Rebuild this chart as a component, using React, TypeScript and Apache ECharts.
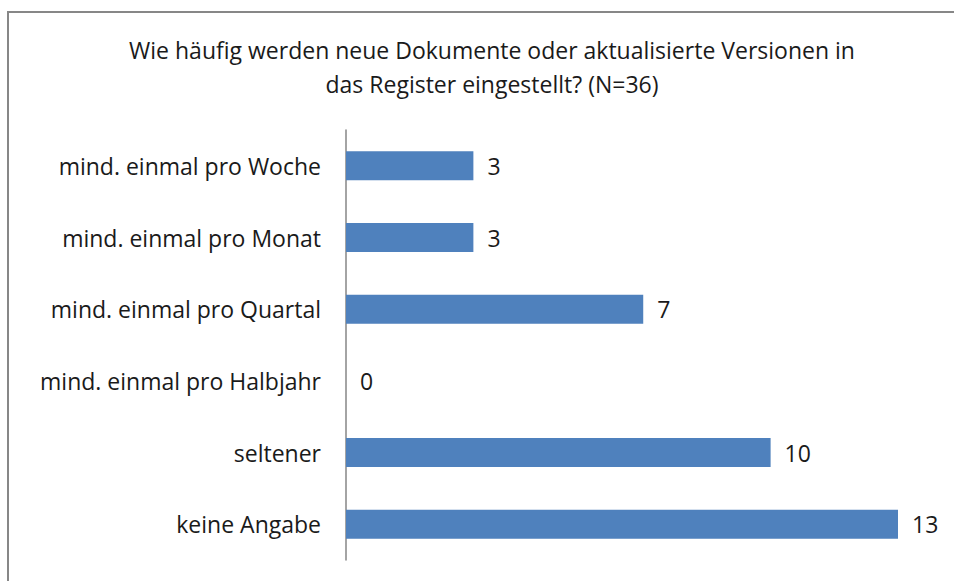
import React, { useEffect, useRef } from "react";
import * as echarts from "echarts";

const titleText = "Wie häufig werden neue Dokumente oder aktualisierte Versionen in\ndas Register eingestellt? (N=36)";
const categories = [
  "mind. einmal pro Woche",
  "mind. einmal pro Monat",
  "mind. einmal pro Quartal",
  "mind. einmal pro Halbjahr",
  "seltener",
  "keine Angabe",
];
const values = [3, 3, 7, 0, 10, 13];

const FONT = "'Open Sans', sans-serif";

export default function App() {
  const ref = useRef<HTMLDivElement>(null);
  useEffect(() => {
    if (!ref.current) return;
    const chart = echarts.init(ref.current, null, { renderer: "svg" });
    chart.setOption({
      animation: false,
      backgroundColor: "#ffffff",
      title: {
        text: titleText,
        left: 487,
        textAlign: "center",
        top: 28,
        textStyle: {
          fontFamily: FONT,
          fontSize: 23,
          fontWeight: "normal",
          color: "#1a1a1a",
          lineHeight: 34,
        },
      },
      graphic: [
        {
          type: "rect",
          shape: { x: 8, y: 12, width: 1000, height: 700 },
          style: { fill: "none", stroke: "#878787", lineWidth: 2 },
          silent: true,
        },
      ],
      grid: { left: 346, top: 130, width: 552, height: 430, containLabel: false },
      xAxis: {
        type: "value",
        min: 0,
        max: 13,
        show: false,
        splitLine: { show: false },
      },
      yAxis: {
        type: "category",
        data: categories,
        inverse: true,
        axisLine: { show: true, lineStyle: { color: "#868686", width: 1.5 } },
        axisTick: { show: false },
        axisLabel: {
          margin: 25,
          fontFamily: FONT,
          fontSize: 23,
          color: "#1a1a1a",
        },
      },
      series: [
        {
          type: "bar",
          data: values,
          barWidth: 29,
          itemStyle: { color: "#4f81bd" },
          label: {
            show: true,
            position: "right",
            distance: 14,
            fontFamily: FONT,
            fontSize: 23,
            color: "#1a1a1a",
          },
        },
      ],
    });
    return () => chart.dispose();
  }, []);
  return (
    <div
      ref={ref}
      style={{ position: "fixed", left: 0, top: 0, width: 954, height: 581 }}
    />
  );
}
